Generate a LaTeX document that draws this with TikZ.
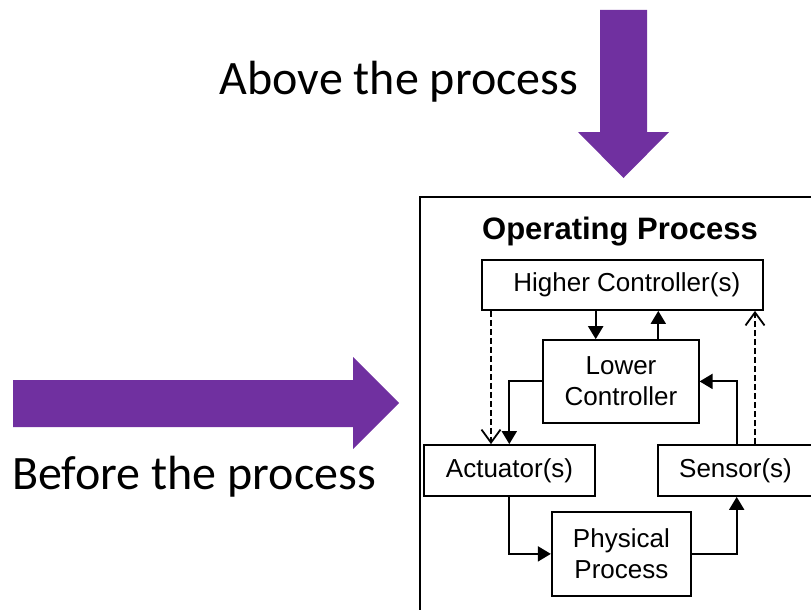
\documentclass[tikz,border=0pt]{standalone}
\usepackage{fontspec}
\setmainfont{Liberation Sans}
\newfontfamily\calib{Carlito}
\usetikzlibrary{arrows.meta,calc}
\definecolor{officepurple}{HTML}{7030A0}
\begin{document}
\begin{tikzpicture}[x=1pt,y=-1pt,
  box/.style={draw,line width=1.8pt,inner sep=0pt,align=center,font=\fontsize{26}{31.5}\selectfont},
  arr/.style={line width=2pt,-{Triangle[length=13pt,width=15pt]}},
  dasharr/.style={line width=2pt,dash pattern=on 6pt off 3pt,-{Straight Barb[length=13pt,width=19pt,line width=1.8pt]}},
  bigtext/.style={font=\calib\fontsize{48}{58}\selectfont,inner sep=0pt,anchor=base}]
\useasboundingbox (0,0) rectangle (811,610);
% big purple arrows
\fill[officepurple] (600,10) -- (647,10) -- (647,132) -- (669,132) -- (623.5,178) -- (578,132) -- (600,132) -- cycle;
\fill[officepurple] (13,380) -- (353,380) -- (353,357) -- (399,403) -- (353,449) -- (353,427) -- (13,427) -- cycle;
\node[bigtext] (above) at (399,94) {Above the process};
\node[bigtext] (before) at (194,489) {Before the process};
% outer frame
\node[draw,line width=2pt,minimum width=400pt,minimum height=425pt,inner sep=0pt,anchor=north west] (frame) at (419,196) {};
\node[font=\bfseries\fontsize{31}{37}\selectfont,inner sep=0pt,anchor=base] (title) at (620,239) {Operating Process};
% boxes
\node[box,minimum width=281pt,minimum height=50pt] (higher) at (622.8,285) {\hspace{8pt}Higher Controller(s)};
\node[box,minimum width=155.4pt,minimum height=82.7pt] (lower) at (621,381.4) {Lower\\Controller};
\node[box,minimum width=171pt,minimum height=51pt] (actuator) at (509.5,470.5) {Actuator(s)};
\node[box,minimum width=155pt,minimum height=51pt] (sensor) at (735.5,470.5) {Sensor(s)};
\node[box,minimum width=139.3pt,minimum height=84.3pt] (physical) at (621.4,553.9) {Physical\\Process};
% columns
\coordinate (c1) at (491,0);
\coordinate (c2) at (509.3,0);
\coordinate (c3) at (595.7,0);
\coordinate (c4) at (658.3,0);
\coordinate (c5) at (736.7,0);
\coordinate (c6) at (755,0);
% connectors
\draw[arr] (higher.south -| c3) -- (lower.north -| c3);
\draw[arr] (lower.north -| c4) -- (higher.south -| c4);
\draw[dasharr] (higher.south -| c1) -- (actuator.north -| c1);
\draw[arr] (lower.west) -| (actuator.north -| c2);
\draw[arr] (sensor.north -| c5) |- (lower.east);
\draw[dasharr] (sensor.north -| c6) -- (higher.south -| c6);
\draw[arr] (actuator.south -| c2) |- (physical.west);
\draw[arr] (physical.east) -| (sensor.south -| c5);
\end{tikzpicture}
\end{document}
